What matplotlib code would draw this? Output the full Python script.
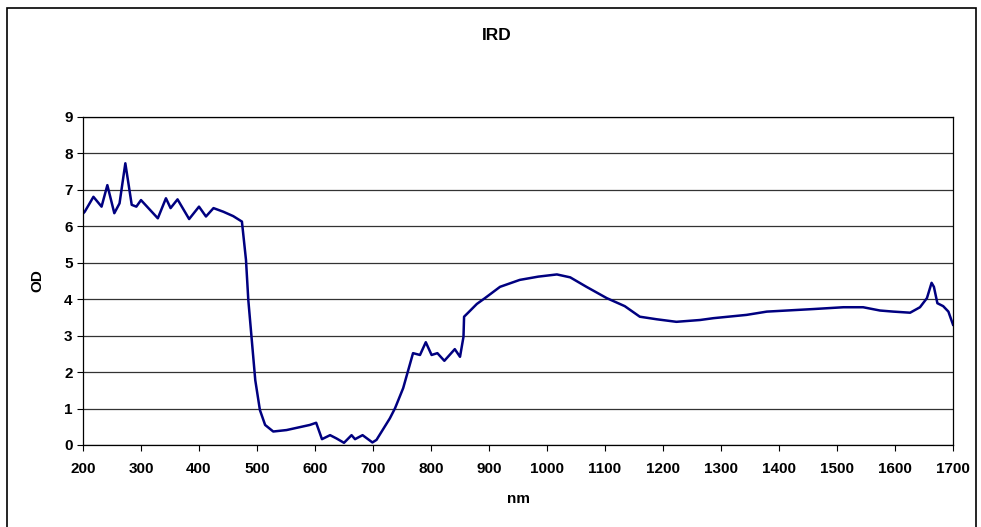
import matplotlib.pyplot as plt
from matplotlib.patches import Rectangle

# Werte
nm = [200, 203, 218, 232, 242, 254, 263, 273, 284, 292, 300, 329, 343, 351, 363,
      383, 400, 412, 425, 442, 459, 474, 481, 485, 491, 497, 505, 514, 528, 551,
      591, 602, 612, 626, 637, 650, 663, 669, 682, 699, 706, 729, 738, 752, 769,
      781, 791, 801, 811, 823, 841, 850, 856, 857, 864, 879, 893, 919, 953, 985, 1017,
      1040, 1068, 1103, 1134, 1160, 1189, 1223, 1264, 1287, 1344, 1379, 1459, 1511,
      1545, 1574, 1597, 1626, 1643, 1655, 1663, 1667, 1673, 1683, 1692, 1700]
od = [6.35, 6.40, 6.81, 6.54, 7.13, 6.36, 6.63, 7.73, 6.59, 6.54, 6.72, 6.22, 6.77,
      6.50, 6.74, 6.20, 6.54, 6.27, 6.50, 6.40, 6.28, 6.13, 5.08, 3.98, 2.88, 1.78,
      0.96, 0.55, 0.37, 0.41, 0.55, 0.61, 0.16, 0.27, 0.18, 0.06, 0.27, 0.16, 0.27,
      0.07, 0.14, 0.73, 1.01, 1.56, 2.52, 2.47, 2.82, 2.47, 2.52, 2.31, 2.63, 2.42,
      2.97, 3.52, 3.63, 3.87, 4.03, 4.34, 4.53, 4.62, 4.68, 4.60, 4.34, 4.03, 3.81, 3.52,
      3.45, 3.38, 3.43, 3.48, 3.57, 3.66, 3.73, 3.78, 3.78, 3.69, 3.66, 3.63, 3.78,
      4.03, 4.45, 4.34, 3.89, 3.81, 3.66, 3.30]

xticks = list(range(200, 1701, 100))
yticks = list(range(0, 10))

plt.rcParams['font.family'] = ['Liberation Sans', 'DejaVu Sans']

fig = plt.figure(figsize=(9.81, 5.27), dpi=100)
ax = fig.add_axes([0.0846, 0.1556, 0.8869, 0.6224])

ax.plot(nm, od, color='#000080', lw=1.8)
ax.set_xlim(200, 1700)
ax.set_ylim(0, 9)
ax.set_xticks(xticks)
ax.set_yticks(yticks)
ax.tick_params(direction='out', length=4, width=0.8, labelsize=11)
ax.tick_params(axis='x', pad=8)
for lab in ax.get_xticklabels() + ax.get_yticklabels():
    lab.set_fontweight('bold')
ax.yaxis.grid(True, color='#333333', lw=0.9)
ax.set_axisbelow(True)
for s in ax.spines.values():
    s.set_linewidth(0.9)

ax.set_xlabel('nm', fontsize=11, fontweight='bold', labelpad=12)
ax.set_ylabel('OD', fontsize=11, fontweight='bold', labelpad=14)
fig.text(0.506, 0.933, 'IRD', ha='center', va='center', fontsize=12.5, fontweight='bold')

fig.add_artist(Rectangle((0.007, -0.1), 0.988, 1.085, transform=fig.transFigure,
                         fill=False, lw=1.2, color='k'))

fig.savefig('out.png', dpi=100)
